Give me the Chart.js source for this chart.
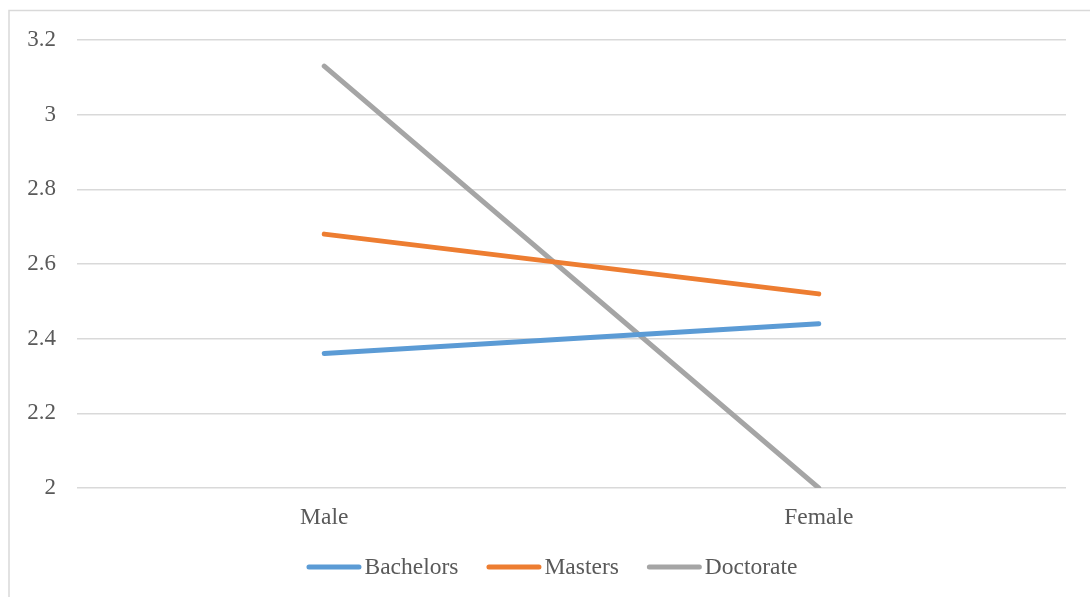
<!DOCTYPE html>
<html>
<head>
<meta charset="utf-8">
<script src="https://cdn.jsdelivr.net/npm/chart.js@4.4.1/dist/chart.umd.min.js"></script>
<style>
  html, body { margin: 0; padding: 0; background: #ffffff; overflow: hidden; }
  #wrap { position: relative; width: 1090px; height: 597px; }
  canvas { display: block; }
</style>
</head>
<body>
<div id="wrap"><canvas id="chart" width="1090" height="597"></canvas></div>
<script>
// Gender categories on the x axis
const categories = ['Male', 'Female'];

// Mean scores per degree level
const bachelors = [2.36, 2.44];
const masters = [2.68, 2.52];
const doctorate = [3.13, 2.00];

const seriesNames = ['Bachelors', 'Masters', 'Doctorate'];
const seriesColors = ['#5B9BD5', '#ED7D31', '#A5A5A5'];

// Value axis range
const yMin = 2;
const yMax = 3.2;
const yStep = 0.2;

const FONT = '"Liberation Serif", "Times New Roman", serif';
const TEXT_COLOR = '#595959';

// Outer frame of the chart box
const framePlugin = {
  id: 'frame',
  beforeDraw(chart) {
    const ctx = chart.ctx;
    ctx.save();
    ctx.strokeStyle = '#d9d9d9';
    ctx.lineWidth = 1.5;
    ctx.strokeRect(9, 10.5, 2000, 2000);
    ctx.restore();
  }
};

// Legend row with line samples under the plot
const lineLegendPlugin = {
  id: 'lineLegend',
  afterDraw(chart) {
    const ctx = chart.ctx;
    const sets = chart.data.datasets;
    const sampleLen = 55;
    const sampleGap = 3;
    const itemGap = 28;
    const y = 567;
    ctx.save();
    ctx.font = '23.5px ' + FONT;
    ctx.textBaseline = 'middle';
    const widths = sets.map(d => sampleLen + sampleGap + ctx.measureText(d.label).width);
    const total = widths.reduce((a, b) => a + b, 0) + itemGap * (sets.length - 1);
    let x = (chart.width - total) / 2 + 7;
    sets.forEach((d, i) => {
      ctx.strokeStyle = d.borderColor;
      ctx.lineWidth = 5;
      ctx.lineCap = 'round';
      ctx.beginPath();
      ctx.moveTo(x + 2.5, y);
      ctx.lineTo(x + sampleLen - 2.5, y);
      ctx.stroke();
      ctx.fillStyle = TEXT_COLOR;
      ctx.fillText(d.label, x + sampleLen + sampleGap, y + 1);
      x += widths[i] + itemGap;
    });
    ctx.restore();
  }
};

const seriesValues = [bachelors, masters, doctorate];

new Chart(document.getElementById('chart'), {
  type: 'line',
  data: {
    labels: categories,
    datasets: seriesNames.map((name, i) => ({
      label: name,
      data: seriesValues[i],
      borderColor: seriesColors[i],
      backgroundColor: seriesColors[i],
      borderWidth: 5,
      borderCapStyle: 'round',
      borderJoinStyle: 'round',
      pointRadius: 0,
      pointHoverRadius: 0,
      tension: 0,
      fill: false
    }))
  },
  options: {
    responsive: false,
    animation: false,
    events: [],
    layout: { padding: { top: 40, right: 24, bottom: 60, left: 0 } },
    plugins: {
      legend: { display: false },
      tooltip: { enabled: false },
      title: { display: false }
    },
    scales: {
      x: {
        offset: true,
        grid: { display: false, drawTicks: false },
        border: { display: false },
        ticks: {
          color: TEXT_COLOR,
          font: { family: FONT, size: 23.5 },
          padding: 16,
          maxRotation: 0
        },
        afterFit(scale) { scale.height = 49; }
      },
      y: {
        min: yMin,
        max: yMax,
        grid: { color: '#d9d9d9', lineWidth: 1.5, drawTicks: false },
        border: { display: false },
        ticks: {
          stepSize: yStep,
          color: TEXT_COLOR,
          font: { family: FONT, size: 23 },
          padding: 21,
          callback: v => String(Math.round(v * 10) / 10)
        },
        afterFit(scale) { scale.width = 77; }
      }
    }
  },
  plugins: [framePlugin, lineLegendPlugin]
});
</script>
</body>
</html>
